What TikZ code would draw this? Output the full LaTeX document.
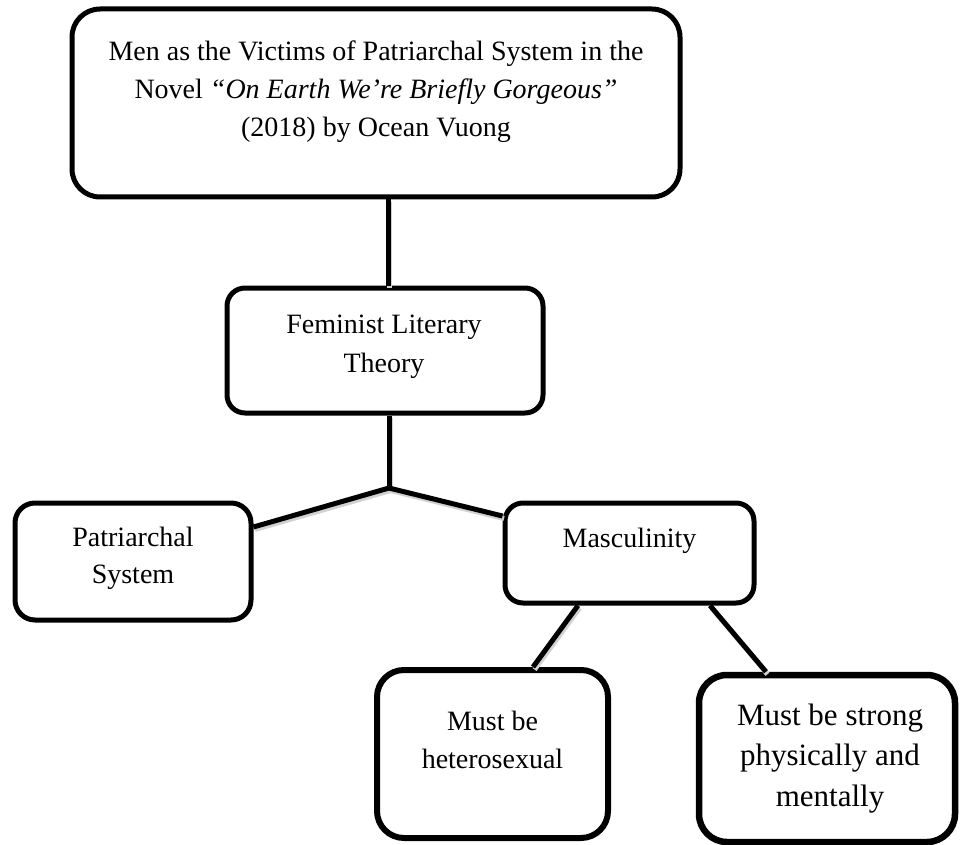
\documentclass[tikz,border=0pt]{standalone}
\usepackage{fontspec}
\setmainfont{Liberation Serif}
\usetikzlibrary{calc}
\begin{document}
\begin{tikzpicture}[x=1pt,y=-1pt,
  box/.style={draw=black, line width=5pt, rounded corners=#1, fill=white, inner sep=0pt},
  box/.default=20pt,
  lbl/.style={font=\fontsize{28}{38}\selectfont, align=center, anchor=base, inner sep=0pt},
  conn/.style={line width=5pt, draw=black,
    preaction={draw=black!18, line width=5pt, transform canvas={shift={(1.5pt,-2.5pt)}}}}]
\useasboundingbox[fill=white] (0,0) rectangle (961,845);
% boxes
\node[box=28pt, minimum width=608pt, minimum height=188pt] (top) at (376,103) {};
\node[box=18pt, minimum width=316pt, minimum height=125pt] (fem) at (385,350.5) {};
\node[box=20pt, minimum width=236pt, minimum height=117pt] (pat) at (133,561.5) {};
\node[box=18pt, minimum width=249pt, minimum height=100pt] (masc) at (629.5,553) {};
\node[box=27pt, line width=6pt, minimum width=231pt, minimum height=168pt] (het) at (492.5,754) {};
\node[box=28pt, line width=6.5pt, minimum width=256pt, minimum height=167pt] (str) at (827,758.5) {};
\coordinate (J) at (389,488);
% texts (base anchor = baseline of the last line)
\node[lbl] (toptext) at (376,137) {Men as the Victims of Patriarchal System in the\\Novel \textit{“On Earth We’re Briefly Gorgeous”}\\(2018) by Ocean Vuong};
\node[lbl, font=\fontsize{28}{39}\selectfont] (femtext) at (384,372) {Feminist Literary\\Theory};
\node[lbl, font=\fontsize{28}{37}\selectfont] (pattext) at (133,583) {Patriarchal\\System};
\node[lbl] (masctext) at (629.5,547) {Masculinity};
\node[lbl] (hettext) at (492.5,768) {Must be\\heterosexual};
\node[lbl, font=\fontsize{31}{40.5}\selectfont] (strtext) at (830,806) {Must be strong\\physically and\\mentally};
% connectors
\draw[conn] (top.south -| 388,0) -- (fem.north -| 388,0);
\draw[conn] (fem.south -| 389,0) -- (J);
\draw[conn] (J) -- (pat.east |- 0,527);
\draw[conn] (J) -- (masc.west |- 0,516);
\draw[conn] (masc.south -| 578,0) -- (het.north -| 533,0);
\draw[conn] (masc.south -| 710,0) -- (str.north -| 766,0);
\end{tikzpicture}
\end{document}
